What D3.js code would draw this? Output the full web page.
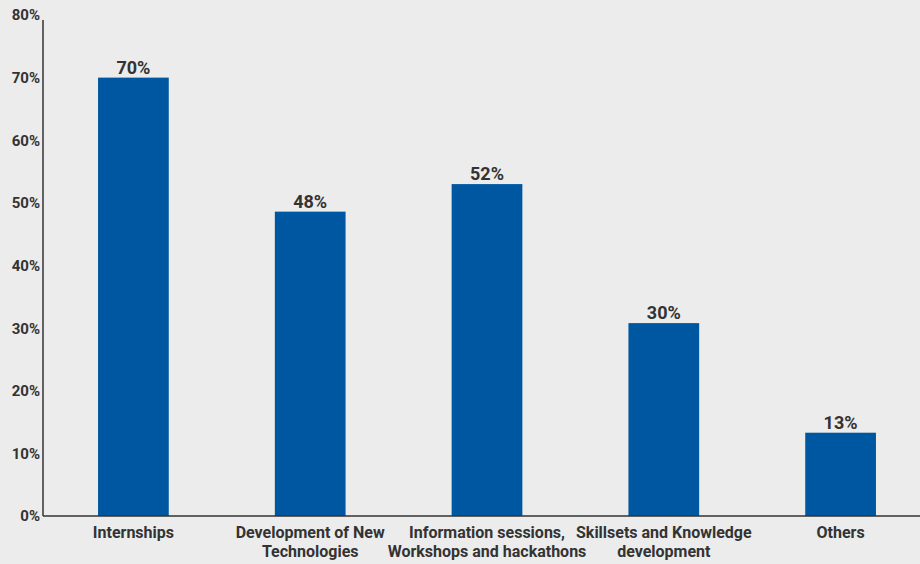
<!DOCTYPE html>
<html>
<head>
<meta charset="utf-8">
<script src="https://cdn.jsdelivr.net/npm/d3@7"></script>
<style>
  html, body { margin: 0; padding: 0; background: #ebeceb; }
  svg { display: block; font-family: Roboto, "Noto Sans", sans-serif; }
</style>
</head>
<body>
<svg></svg>
<script>
var WIDTH = 920;
var HEIGHT = 564;

var categories = [
    ["Internships"],
    ["Development of New", "Technologies"],
    ["Information sessions,", "Workshops and hackathons"],
    ["Skillsets and Knowledge", "development"],
    ["Others"]
];
var values = [70, 48.6, 53, 30.8, 13.3];
var valueLabels = ["70%", "48%", "52%", "30%", "13%"];
var yTicks = [0, 10, 20, 30, 40, 50, 60, 70, 80];

var svg = d3.select("svg")
    .attr("width", WIDTH)
    .attr("height", HEIGHT);

var x = d3.scaleBand()
    .domain(d3.range(categories.length))
    .range([45, 929])
    .paddingInner(0.6)
    .paddingOuter(0.3);

var y = d3.scaleLinear()
    .domain([0, 80])
    .range([516, 15]);

// y tick labels
svg.append("g")
    .selectAll("text")
    .data(yTicks)
    .enter()
    .append("text")
    .attr("x", 40)
    .attr("y", function(d) { return y(d); })
    .attr("dy", "0.36em")
    .attr("text-anchor", "end")
    .attr("font-size", 15)
    .attr("font-weight", 700)
    .attr("fill", "#333")
    .text(function(d) { return d + "%"; });

// bars
svg.append("g")
    .selectAll("rect")
    .data(values)
    .enter()
    .append("rect")
    .attr("x", function(d, i) { return x(i); })
    .attr("y", function(d) { return y(d); })
    .attr("width", x.bandwidth())
    .attr("height", function(d) { return y(0) - y(d); })
    .attr("fill", "#0057a1");

// value labels
svg.append("g")
    .selectAll("text")
    .data(values)
    .enter()
    .append("text")
    .attr("x", function(d, i) { return x(i) + x.bandwidth() / 2; })
    .attr("y", function(d) { return y(d) - 4; })
    .attr("text-anchor", "middle")
    .attr("font-size", 18)
    .attr("font-weight", 700)
    .attr("fill", "#333")
    .text(function(d, i) { return valueLabels[i]; });

// axis lines
svg.append("line")
    .attr("x1", 43).attr("x2", 43)
    .attr("y1", 20).attr("y2", y(0))
    .attr("stroke", "#333")
    .attr("stroke-width", 1.5);
svg.append("line")
    .attr("x1", 43).attr("x2", WIDTH)
    .attr("y1", y(0)).attr("y2", y(0))
    .attr("stroke", "#333")
    .attr("stroke-width", 1.5);

// category labels
var cat = svg.append("g")
    .selectAll("text")
    .data(categories)
    .enter()
    .append("text")
    .attr("x", function(d, i) { return x(i) + x.bandwidth() / 2; })
    .attr("y", 538)
    .attr("text-anchor", "middle")
    .attr("font-size", 16)
    .attr("font-weight", 700)
    .attr("fill", "#333");

cat.selectAll("tspan")
    .data(function(d) { return d; })
    .enter()
    .append("tspan")
    .attr("x", function() { return d3.select(this.parentNode).attr("x"); })
    .attr("dy", function(d, i) { return i === 0 ? 0 : 19; })
    .text(function(d) { return d; });
</script>
</body>
</html>
